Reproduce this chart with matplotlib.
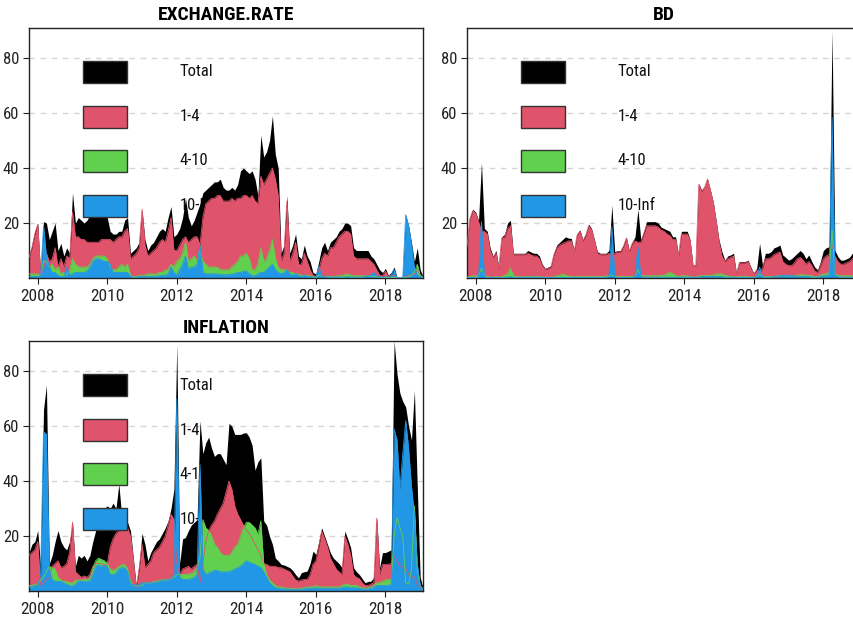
"""Overlapping area charts of term-structure shares for three series."""

import pandas as pd
import matplotlib
matplotlib.use("Agg")  # no screen in the sandbox
import matplotlib.pyplot as plt
from matplotlib import font_manager
from matplotlib.patches import Rectangle

# Monthly observations, Oct 2007 .. Feb 2019
dates = pd.date_range("2007-10-01", "2019-02-01", freq="MS")
years = dates.year + (dates.month - 1) / 12

labels = ["Total", "1-4", "4-10", "10-Inf"]
colors = ["#000000", "#DF536B", "#61D04F", "#2297E6"]

# ---- EXCHANGE.RATE ----
er_total = [8, 12, 17,
            20, 1.5, 20.5, 20, 14, 17, 20, 10, 12.6, 8, 11, 9,
            31, 20, 22, 21, 20, 21, 23, 24, 24, 24, 24, 23,
            22, 17, 16, 16, 17, 17, 21, 22, 9, 10, 11, 13,
            25, 14, 10, 12, 13, 15, 17, 18, 17, 22, 26, 15,
            16, 18, 22, 29, 22, 19, 21, 24, 27, 31, 32, 33,
            34, 35, 35, 36, 33, 32, 32, 33, 32, 34, 39, 40,
            39, 38, 39, 36, 30, 52, 44, 46, 50, 59, 45, 40,
            9, 12, 30, 9, 12, 16, 8, 7, 12, 8, 6, 2,
            1.5, 6, 11, 13, 10, 13, 14, 15, 17, 18, 20, 20,
            19, 11, 10, 10, 10, 10, 10, 8, 7, 5, 3, 2,
            3.5, 1, 2, 4, 0.3, 0.2, 0.5, 23, 19, 13, 6, 11,
            3, 0.5]
er_1_4 = [7.5, 11, 16,
          19.5, 1, 3, 9, 6, 7, 11, 4, 7, 4, 8, 7,
          24, 15, 15, 14, 14, 13, 13, 13, 13, 13, 14, 14,
          14, 14, 13, 14, 15, 15, 17, 18, 7, 8, 9, 11,
          25, 12, 8, 9, 10, 11, 13, 14, 13, 17, 22, 10,
          10, 12, 14, 15, 13, 14, 15, 15, 12, 22, 27, 28,
          29, 29, 30, 30, 28, 28, 28, 29, 28, 29, 29, 30,
          30, 29, 30, 28, 27, 37, 34, 36, 38, 40, 36, 30,
          6, 9, 28, 6, 9, 13, 5, 5, 9, 6, 3, 1,
          0.5, 3, 7, 9, 8, 11, 11, 13, 15, 16, 17, 17,
          16, 8, 7, 7, 7, 7, 7, 6, 5, 3, 1, 0.8,
          2.5, 0.5, 1, 1, 0.2, 0.1, 0.3, 0.5, 1, 1, 1.5, 3,
          1, 0.3]
er_4_10 = [1.5, 1.5, 1.5,
           1.5, 0.8, 6, 6, 4, 5, 3, 4, 1.5, 2, 1, 3,
           7, 5, 4, 4, 4, 4, 5, 7, 8, 8, 8, 8,
           7, 4, 3, 3, 4, 5, 4, 5, 1, 0.5, 0.5, 1,
           1, 1, 1.5, 1.5, 1.5, 1.5, 2, 2, 3, 3, 5, 4,
           6, 7, 9, 13, 6, 7, 8, 6, 10, 6, 5, 4,
           4, 4, 4, 3, 3, 3, 3, 4, 5, 6, 8, 8,
           9, 7, 3, 3, 5, 11, 6, 7, 10, 14, 7, 4,
           3, 3, 3, 2, 2, 1.5, 1.5, 1, 1, 1, 0.8, 0.5,
           0.3, 1, 0.8, 0.5, 0.5, 0.6, 0.6, 0.7, 0.8, 1, 1.2, 1.5,
           1, 0.8, 0.8, 0.8, 0.8, 0.8, 0.7, 0.7, 0.5, 0.5, 0.3, 0.2,
           0.2, 0.2, 0.3, 0.2, 0.1, 0.1, 0.1, 0.3, 0.5, 1, 2, 5,
           1, 0.2]
er_10_inf = [0.5, 0.5, 0.5,
             0.5, 0.8, 19, 8, 4, 2, 2, 1, 0.5, 0.5, 4, 1,
             1.5, 2, 2, 2, 2, 2.5, 4, 6, 7, 7, 6.5, 6,
             6, 5, 2, 2, 2, 2, 2, 2, 0.5, 0.3, 0.3, 0.5,
             0.5, 0.5, 0.5, 0.5, 0.5, 0.7, 0.8, 1, 1, 1.5, 4, 2,
             1, 3, 5, 8, 3, 4, 4, 5, 12, 2, 1.5, 1.5,
             1.5, 1.5, 1.5, 1.2, 1.2, 1.2, 1.2, 1.5, 1.5, 2, 2, 2.5,
             2.5, 1.5, 0.8, 0.8, 1.5, 2, 2, 3, 4, 5, 3, 2,
             1.5, 2, 3, 1.5, 1, 1.5, 1, 0.5, 1, 0.5, 0.5, 0.3,
             0.5, 4, 1, 0.5, 0.3, 0.3, 0.3, 0.3, 0.3, 0.3, 0.3, 0.5,
             0.3, 0.3, 0.3, 0.3, 0.3, 0.5, 1, 1, 2, 1, 0.3, 0.3,
             0.5, 0.3, 1, 3, 0.2, 0.1, 0.2, 23, 19, 12, 4, 1,
             0.5, 0.2]

# ---- BD ----
bd_total = [12, 22, 25,
            24, 21, 42, 18, 17, 11, 8, 10, 4, 15, 16, 20,
            21, 9, 9, 9, 9, 9, 10, 9.5, 9, 9, 8, 5,
            3.5, 4, 4.5, 9, 12, 13, 14, 15, 14.5, 14.4, 10, 16,
            17.5, 14, 16, 19.6, 18, 14, 9.6, 9, 9, 9, 10, 26.5,
            9.6, 10, 10, 12, 15, 10, 13, 15, 25, 14, 17, 20.5,
            20.5, 20.5, 20.5, 20, 18.5, 18, 17.5, 17, 15, 15, 8.4, 17,
            17, 17, 14, 4.7, 4.7, 34.4, 32, 33, 36.2, 32, 27.8, 21,
            13.8, 9.6, 6.5, 8, 8.4, 9, 1.7, 6, 6, 6, 6.5, 4,
            1.7, 3.5, 12.6, 4.7, 9, 9, 9.6, 11, 11.4, 12, 8.4, 7.5,
            6.5, 7, 8, 9, 10, 9, 7, 8.4, 6, 4, 3, 6,
            10, 11, 11.4, 90, 10, 7.8, 6.5, 6.5, 7, 7.5, 9, 9.5,
            9, 9]
bd_1_4 = [11.5, 21.5, 24.5,
          23.5, 20.5, 17, 17, 16, 10, 7.5, 9, 3.5, 14.5, 15, 18,
          19, 8.5, 8.5, 8.5, 8.5, 8.5, 9, 8.5, 8, 8, 7, 4.5,
          3, 3.5, 4, 8.5, 11, 12, 12.5, 13, 13.5, 13.5, 9.5, 15.5,
          17, 13.5, 15.5, 19, 17.5, 13.5, 9, 8.5, 8.5, 8.5, 9, 8,
          9, 9.5, 9.5, 11.5, 14.5, 9.5, 12.5, 13.5, 13, 13, 16, 19,
          19, 19, 19, 18.5, 17.5, 17, 16, 15.5, 14, 14, 8, 16,
          16, 16, 13.5, 4.5, 4.5, 34, 31.5, 33, 36, 32, 27.5, 20.5,
          13, 8, 6, 7, 7.5, 8, 1.5, 5.5, 5.5, 5.5, 6, 3.5,
          1.5, 3, 2, 3.5, 7, 7, 7.5, 8.5, 9, 9.5, 6, 5,
          4.5, 4.5, 5.5, 7, 7.5, 6.5, 5, 6, 4.5, 2.5, 2, 4.5,
          7, 8, 8.5, 12, 8, 6, 5, 5, 5.5, 6, 7, 8,
          8, 8]
bd_4_10 = [0.3, 0.5, 0.8,
           0.8, 0.8, 3.5, 1, 0.5, 0.3, 0.3, 0.5, 0.3, 0.5, 1, 1.5,
           3.5, 1, 0.5, 0.4, 0.4, 0.5, 0.5, 0.5, 0.5, 0.5, 0.5, 0.3,
           0.3, 0.3, 0.3, 0.5, 0.8, 1, 1.5, 1, 0.8, 0.5, 0.5, 0.5,
           0.5, 0.5, 0.5, 0.5, 0.5, 0.5, 0.5, 0.5, 0.5, 0.8, 1, 1,
           0.5, 0.5, 0.5, 0.5, 0.5, 0.5, 0.5, 0.8, 3, 1, 0.8, 0.8,
           0.8, 0.8, 0.8, 0.8, 1, 1, 1.5, 2, 1.5, 1, 0.5, 0.8,
           0.8, 0.8, 0.5, 0.3, 0.3, 0.8, 0.8, 0.8, 1, 1, 1, 1.5,
           1.5, 1.5, 1, 0.8, 0.5, 0.5, 0.3, 0.5, 0.5, 0.5, 0.5, 0.3,
           0.3, 0.5, 1.5, 0.5, 0.5, 0.5, 0.5, 0.5, 0.8, 0.8, 0.8, 0.8,
           0.8, 0.8, 1, 1, 1.2, 1.2, 1, 1, 0.8, 0.5, 0.5, 1,
           1.5, 1.5, 2, 17.5, 1.5, 1, 0.8, 0.8, 0.8, 0.8, 0.8, 0.8,
           0.8, 0.8]
bd_10_inf = [0.2, 0.2, 0.2,
             0.2, 0.3, 20.5, 0.5, 0.2, 0.2, 0.2, 0.2, 0.2, 0.2, 0.2, 0.3,
             0.5, 0.3, 0.2, 0.2, 0.2, 0.3, 0.3, 0.3, 0.3, 0.3, 0.2, 0.2,
             0.2, 0.2, 0.2, 0.2, 0.2, 0.2, 0.2, 0.2, 0.2, 0.2, 0.2, 0.2,
             0.2, 0.2, 0.2, 0.2, 0.2, 0.2, 0.2, 0.2, 0.2, 0.3, 0.5, 18.7,
             0.5, 0.2, 0.2, 0.2, 0.2, 0.2, 0.3, 0.5, 11.4, 0.5, 0.3, 0.3,
             0.3, 0.3, 0.3, 0.3, 0.3, 0.3, 0.3, 0.3, 0.3, 0.3, 0.3, 0.3,
             0.3, 0.3, 0.3, 0.2, 0.2, 0.3, 0.5, 0.5, 0.5, 0.5, 0.5, 0.5,
             0.5, 0.5, 0.3, 0.3, 0.3, 0.3, 0.2, 0.2, 0.2, 0.2, 0.2, 0.2,
             0.2, 0.5, 4, 0.3, 0.3, 0.3, 0.3, 0.5, 0.5, 0.8, 1, 1,
             1, 0.8, 0.8, 0.5, 0.5, 0.5, 0.5, 0.5, 0.3, 0.3, 0.3, 0.5,
             0.8, 0.8, 1, 58.5, 1, 0.5, 0.3, 0.3, 0.3, 0.3, 0.3, 0.3,
             0.3, 0.3]

# ---- INFLATION ----
inf_total = [14, 17, 18,
             22, 9, 66, 75, 10, 13, 18, 22, 18, 16, 15, 18,
             25, 9, 13, 12, 13, 11, 13, 18, 22, 26, 28, 30,
             31, 30, 32, 30, 39, 27, 26, 25, 22, 12, 2, 10,
             21, 17, 11, 14, 16, 18, 19, 21, 23, 25.5, 30, 37,
             90, 10, 19, 19.5, 22, 24, 25, 26, 62, 50, 54, 56,
             52, 49, 50, 50, 48, 46, 61, 60, 57, 57, 57, 57.5,
             57.6, 56, 53, 44, 47, 48.5, 25.5, 24, 20, 17, 12, 11,
             9.7, 9.5, 9, 8.5, 7.5, 6, 4.8, 6.7, 7, 7.3, 10, 14.5,
             13.3, 18, 23, 20, 17, 14, 12, 11, 10, 8.5, 21.8, 19,
             15.8, 8.5, 7, 6, 4.5, 3, 3.5, 3.6, 5, 26.7, 8.5, 14,
             14, 14.5, 15, 91, 79, 72, 69, 67, 60, 55, 73, 38,
             5, 1.2]
inf_1_4 = [13, 14, 15,
           18, 2, 3, 4, 5, 9, 10, 11, 8.5, 9, 10, 14,
           25, 7, 6, 5, 5.5, 5, 6, 9, 10, 10, 10, 9,
           10, 16, 19, 21, 22, 23, 24, 23, 20, 11, 1.2, 8,
           17, 8.5, 9.7, 11, 14, 15, 16, 18, 20, 24, 28, 26,
           10, 6, 8, 8.5, 9, 8, 9, 9.7, 3, 10, 18, 22,
           24, 25.5, 28, 30, 32, 36, 40, 37, 31, 28, 26, 24,
           22, 21, 19, 17, 15, 13, 10, 9.7, 9, 9, 9, 8.5,
           8.5, 8, 7.5, 7, 5.5, 4, 3.6, 4, 4.2, 4.2, 6, 9.7,
           11, 16, 21.8, 19, 16, 12, 10, 8, 7, 6, 20, 17,
           13, 6, 5, 4.5, 3, 2, 2, 2.5, 3, 26.5, 6, 9.7,
           9.7, 9.7, 10, 12.7, 11, 9, 9, 8, 6, 5, 5, 2.5,
           1.5, 0.5]
inf_4_10 = [2, 2, 2.5,
            2.5, 4, 5, 7, 9, 8.5, 8, 5, 4, 3.5, 3.5, 3,
            3, 4, 4, 4, 4.2, 4.2, 4.5, 8, 11, 12, 11.5, 11,
            10, 8, 7.5, 8, 9, 9.5, 9.7, 8, 3.6, 2, 1.8, 1.8,
            2, 3, 3, 3, 3.5, 3.5, 4, 4, 4.2, 4.2, 4.5, 5,
            6, 6, 6, 6, 6, 6.5, 7, 8.5, 12, 26, 23, 22,
            20, 17, 16, 14, 13, 13, 13, 14, 16, 17, 20, 23,
            25, 25, 24, 23, 20.6, 25.5, 10, 6, 4, 3, 2, 1.5,
            1.5, 1.2, 1, 1, 1, 0.8, 0.8, 1, 1.2, 1.5, 1.5, 1.5,
            2, 1.5, 1.5, 1.5, 1.5, 1.5, 1.5, 1.5, 1.5, 2, 2.5, 2.5,
            2, 2, 2, 1.5, 1.2, 1, 1.2, 1.5, 2, 3, 3, 3.5,
            4, 4.2, 4.2, 20, 26.7, 23, 20, 3, 2.5, 8, 31, 8,
            2, 0.5]
inf_10_inf = [1.5, 1.5, 2,
              2, 6, 58, 57, 8, 4, 3.5, 3.5, 3.5, 3, 2.5, 2,
              1.8, 2.5, 3.5, 3.5, 3.5, 3.6, 3.6, 6, 9, 9.5, 9, 9.5,
              9, 6, 6, 6.5, 8, 8.5, 8.5, 7, 2.4, 2.4, 2, 2.5,
              3, 3, 3, 3, 3, 3.2, 3.5, 4, 4, 4, 4.5, 6,
              70, 5, 4.2, 4.2, 4.2, 4.5, 5, 6, 46, 8, 6, 6.5,
              7, 7.5, 7.5, 7, 7, 7, 7, 7.5, 8, 8.5, 9, 10,
              11, 10.5, 10, 9.7, 9, 8.5, 7, 5, 3, 2, 1.2, 1,
              0.8, 0.8, 0.7, 0.7, 0.6, 0.5, 0.5, 0.6, 0.8, 1, 1, 1,
              1.2, 1, 1, 1, 1, 1, 1, 1, 1, 1.2, 1.5, 1.5,
              1.2, 1.2, 1.2, 1, 0.8, 0.6, 0.8, 1, 1.5, 2, 2, 2,
              2, 2, 2.5, 59, 55, 37, 50, 62, 52, 38, 28, 10,
              2, 0.8]

panels = [
    ("EXCHANGE.RATE", [er_total, er_1_4, er_4_10, er_10_inf]),
    ("BD", [bd_total, bd_1_4, bd_4_10, bd_10_inf]),
    ("INFLATION", [inf_total, inf_1_4, inf_4_10, inf_10_inf]),
]

# condensed face like the original R device font, if one is installed
installed = {f.name for f in font_manager.fontManager.ttflist}
narrow = next((n for n in ["Liberation Sans Narrow", "Arial Narrow", "Roboto Condensed"]
               if n in installed), None)
if narrow:
    plt.rcParams["font.family"] = [narrow, "DejaVu Sans"]
    scale = 1.0
else:
    plt.rcParams["font.family"] = ["Liberation Sans", "DejaVu Sans"]
    scale = 0.85

fig = plt.figure(figsize=(8.54, 6.19), dpi=100)
# axes rectangles (left, bottom, width, height); BD runs past the right edge
boxes = [
    [0.034, 0.5509, 0.4614, 0.4039],
    [0.5468, 0.5509, 0.4614, 0.4039],
    [0.034, 0.0452, 0.4614, 0.4039],
]

for (title, series), rect in zip(panels, boxes):
    ax = fig.add_axes(rect)

    # overlapping areas, largest first
    for vals, col in zip(series, colors):
        ax.fill_between(years, 0, vals, color=col, lw=0, zorder=2)
    # thin outlines on top, so hidden series still show as lines
    for vals, col in zip(series[1:], colors[1:]):
        ax.plot(years, vals, color=col, lw=0.6, zorder=3)

    # legend drawn by hand: boxes above the data, text below it
    box_bottoms = [0.780, 0.600, 0.424, 0.244]
    for lab, col, yb in zip(labels, colors, box_bottoms):
        ax.add_patch(Rectangle((0.137, yb), 0.112, 0.088, transform=ax.transAxes,
                               facecolor=col, edgecolor="#333333", lw=1.0, zorder=5))
        ax.text(0.383, yb + 0.044, lab, transform=ax.transAxes, ha="left", va="center",
                fontsize=12 * scale, color="#111111", zorder=1)

    ax.set_xlim(years[0], years[-1])
    ax.set_ylim(0, 91)
    ax.set_xticks([2008, 2010, 2012, 2014, 2016, 2018])
    ax.set_yticks([20, 40, 60, 80])
    ax.grid(axis="y", ls=(0, (4, 4)), color="#d4d4d4", lw=1.0)
    ax.set_axisbelow(True)
    ax.tick_params(axis="x", direction="out", length=4, width=0.8, pad=4,
                   labelsize=12.5 * scale, colors="#222222")
    ax.tick_params(axis="y", direction="out", length=4, width=0.8, pad=3,
                   labelsize=12 * scale, colors="#222222")
    for sp in ax.spines.values():
        sp.set_linewidth(1.0)
        sp.set_color("#222222")
    ax.set_title(title, fontsize=14 * scale, fontweight="bold", pad=6)

fig.savefig("out.png", dpi=100)
